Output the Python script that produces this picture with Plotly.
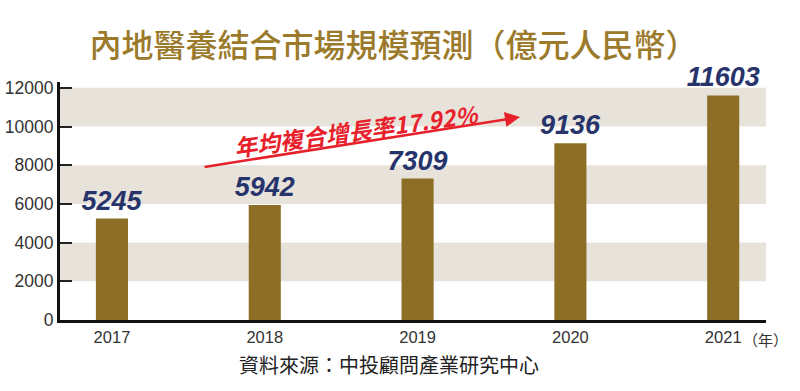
import plotly.graph_objects as go

years = ["2017", "2018", "2019", "2020", "2021"]
values = [5245, 5942, 7309, 9136, 11603]
y_ticks = [0, 2000, 4000, 6000, 8000, 10000, 12000]
y_tick_labels = ["0", "2000", "4000", "6000", "8000", "10000", "12000"]
band_ranges = [(2000, 4000), (6000, 8000), (10000, 12000)]

title_text = "內地醫養結合市場規模預測（億元人民幣）"
source_text = "資料來源：中投顧問產業研究中心"
cagr_text = "年均複合增長率17.92%"
unit_text = "（年）"

LAT = "Liberation Sans, Arial, sans-serif"

x_pos = list(range(len(years)))

fig = go.Figure()
fig.add_trace(go.Bar(
    x=x_pos, y=values, width=0.21,
    marker=dict(color="#8d6e26", line=dict(width=0)),
    text=[f"{v}" for v in values],
    textposition="outside",
    constraintext="none",
    cliponaxis=False,
    textfont=dict(family=LAT, size=27, color="#27346b",
                  weight="bold", style="italic"),
    hoverinfo="skip",
))

shapes = []
for lo, hi in band_ranges:
    shapes.append(dict(type="rect", xref="paper", yref="y", x0=0, x1=1, y0=lo, y1=hi,
                       fillcolor="#e7e3db", line=dict(width=0), layer="below"))

fig.update_layout(
    width=800, height=391,
    margin=dict(l=60, r=34, t=82, b=71, autoexpand=False),
    paper_bgcolor="white", plot_bgcolor="white",
    showlegend=False,
    shapes=shapes,
    title=dict(text=title_text, x=0.492, xanchor="center", y=1 - 46 / 391, yanchor="middle",
               font=dict(family="Noto Sans CJK TC", size=32, color="#9b7a2c", weight=500)),
    xaxis=dict(
        range=[-0.34, 4.28], tickmode="array", tickvals=x_pos, ticktext=years,
        showline=True, linecolor="#111", linewidth=3, ticks="", showgrid=False, zeroline=False,
        tickfont=dict(family=LAT, size=16.5, color="#333"),
    ),
    yaxis=dict(
        range=[0, 12300], tickmode="array", tickvals=y_ticks, ticktext=y_tick_labels,
        showline=True, linecolor="#111", linewidth=3,
        ticks="inside", ticklen=12, tickwidth=2, tickcolor="#222",
        showgrid=False, zeroline=False,
        tickfont=dict(family=LAT, size=17.5, color="#333"),
    ),
    annotations=[
        dict(x=2.67, y=10487, ax=0.596, ay=7898, xref="x", yref="y", axref="x", ayref="y",
             showarrow=True, arrowhead=2, arrowsize=1.2, arrowwidth=2.5, arrowcolor="#e8202a", text=""),
        dict(x=1.597, y=9813, xref="x", yref="y", text=cagr_text, showarrow=False, textangle=-8,
             font=dict(family="Noto Sans CJK TC", size=23, color="#e8202a", weight="bold", style="italic")),
        dict(x=4, y=0, xref="x", yref="y", text=unit_text, showarrow=False, xshift=42, yshift=-19,
             font=dict(family="Noto Sans CJK TC", size=15, color="#333")),
        dict(x=(389 - 60) / 706, y=-44 / 238, xref="paper", yref="paper", text=source_text,
             showarrow=False, xanchor="center", yanchor="middle",
             font=dict(family="Noto Sans CJK TC", size=20, color="#222")),
    ],
)

fig.write_html("out.html", config={"displayModeBar": False},
               post_script="document.body.style.margin='0';document.body.style.padding='0';")
